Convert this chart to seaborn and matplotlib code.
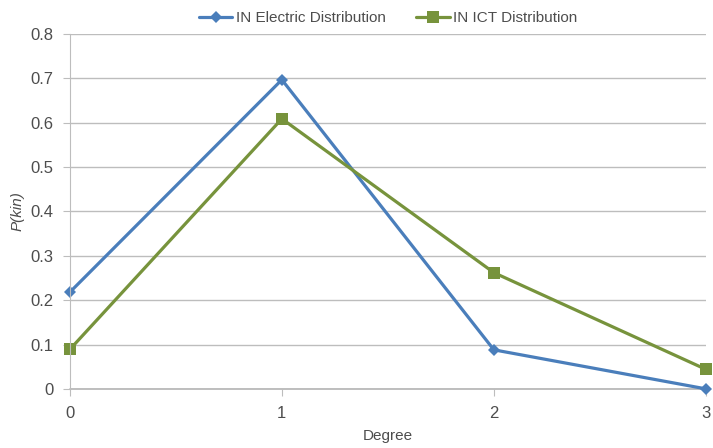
import numpy as np
import pandas as pd
import seaborn as sns
import matplotlib.pyplot as plt

degree = [0, 1, 2, 3]
electric = [0.218, 0.697, 0.088, 0.0]
ict = [0.089, 0.609, 0.262, 0.044]

sns.set_style("white")
plt.rcParams['font.family'] = ['Liberation Sans', 'DejaVu Sans']

fig = plt.figure(figsize=(7.13, 4.48), dpi=100)
ax = fig.add_axes([0.098, 0.132, 0.892, 0.792])

blue = "#4a7ebb"
green = "#77933c"
sns.lineplot(x=degree, y=electric, ax=ax, color=blue, marker="D", markersize=6,
             markeredgewidth=0, linewidth=2.3, label="IN Electric Distribution")
sns.lineplot(x=degree, y=ict, ax=ax, color=green, marker="s", markersize=8,
             markeredgewidth=0, linewidth=2.3, label="IN ICT Distribution")

ax.set_xlim(0, 3)
ax.set_ylim(0, 0.8)
ax.set_xticks(degree)
ax.set_yticks(np.arange(0, 0.81, 0.1))
ax.set_yticklabels(["0"] + [f"{v:.1f}" for v in np.arange(0.1, 0.81, 0.1)])
ax.yaxis.grid(True, color="#bdbdbd", linewidth=1)
ax.set_axisbelow(True)
for s in ["top", "right", "bottom"]:
    ax.spines[s].set_visible(False)
ax.spines["left"].set_color("#bdbdbd")
ax.axhline(0, color="#b3b3b3", linewidth=1.2, zorder=0)
ax.tick_params(axis="both", colors="#4d4d4d", labelsize=12, length=5,
               direction="out", color="#bdbdbd", left=True, bottom=True, pad=7)
ax.set_xlabel("Degree", fontsize=11, color="#4d4d4d", labelpad=6)
ax.set_ylabel("P(kin)", fontsize=11, color="#4d4d4d", style="italic")
for line in ax.lines:
    line.set_clip_on(False)

leg = ax.legend(loc="lower center", bbox_to_anchor=(0.5, 1.0), ncol=2, frameon=False,
                fontsize=11, handlelength=2.2, handletextpad=0.2, columnspacing=2.0,
                borderaxespad=0.2)
for t in leg.get_texts():
    t.set_color("#4d4d4d")

fig.savefig("out.png", dpi=100)
